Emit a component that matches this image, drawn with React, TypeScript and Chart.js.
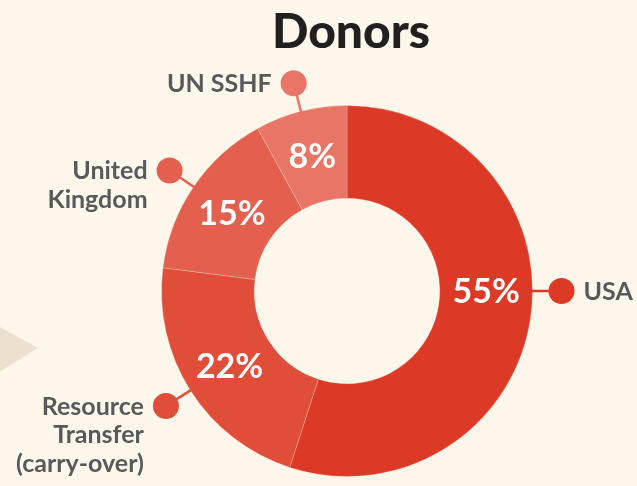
import React, { useEffect, useRef } from "react";
import Chart from "chart.js/auto";

const categories = ["USA", "Resource Transfer (carry-over)", "United Kingdom", "UN SSHF"];
const labelLines = [["USA"], ["Resource", "Transfer", "(carry-over)"], ["United", "Kingdom"], ["UN SSHF"]];
const shares = [55, 22, 15, 8];
const pctLabels = ["55%", "22%", "15%", "8%"];
const colors = ["#dc3a26", "#e04e3a", "#e3604f", "#e87565"];
const angleOffsetDeg = [-9, 0, 0, 0];
const title = "Donors";

const BG = "#fdf6ea";

const decorPlugin = {
  id: "decor",
  beforeDraw(chart: any) {
    const ctx = chart.ctx;
    ctx.save();
    ctx.fillStyle = BG;
    ctx.fillRect(0, 0, chart.width, chart.height);
    ctx.fillStyle = "#eee0cf";
    ctx.beginPath();
    ctx.moveTo(-20, 316);
    ctx.lineTo(38, 348);
    ctx.lineTo(-20, 384);
    ctx.closePath();
    ctx.fill();
    ctx.restore();
  },
  afterDatasetsDraw(chart: any) {
    const ctx = chart.ctx;
    const meta = chart.getDatasetMeta(0);
    ctx.save();
    ctx.fillStyle = "#231f20";
    ctx.font = "900 48px Lato";
    ctx.textAlign = "center";
    ctx.textBaseline = "alphabetic";
    ctx.fillText(title, 351, 48);

    meta.data.forEach((arc: any, i: number) => {
      const { x, y, startAngle, endAngle, innerRadius, outerRadius } = arc.getProps(
        ["x", "y", "startAngle", "endAngle", "innerRadius", "outerRadius"],
        true
      );
      const mid = (startAngle + endAngle) / 2 + (angleOffsetDeg[i] * Math.PI) / 180;
      const cos = Math.cos(mid);
      const sin = Math.sin(mid);
      const rm = (innerRadius + outerRadius) / 2;
      ctx.fillStyle = "#ffffff";
      ctx.font = "bold 34px Lato";
      ctx.textAlign = "center";
      ctx.textBaseline = "middle";
      ctx.fillText(pctLabels[i], x + cos * rm, y + sin * rm + 1);
      const rd = outerRadius + 29;
      const dx = x + cos * rd;
      const dy = y + sin * rd;
      ctx.strokeStyle = colors[i];
      ctx.lineWidth = 2.5;
      ctx.beginPath();
      ctx.moveTo(x + cos * (outerRadius - 1), y + sin * (outerRadius - 1));
      ctx.lineTo(dx, dy);
      ctx.stroke();
      ctx.fillStyle = colors[i];
      ctx.beginPath();
      ctx.arc(dx, dy, 13, 0, Math.PI * 2);
      ctx.fill();
      ctx.fillStyle = "#58595b";
      ctx.font = "bold 25px Lato";
      ctx.textBaseline = "middle";
      const right = cos > 0;
      ctx.textAlign = right ? "left" : "right";
      const tx = right ? dx + 22 : dx - 22;
      labelLines[i].forEach((line, j) => {
        ctx.fillText(line, tx, dy + 1 + j * 28.5);
      });
    });
    ctx.restore();
  },
};

export default function App() {
  const ref = useRef<HTMLCanvasElement>(null);
  useEffect(() => {
    if (!ref.current) return;
    const chart = new Chart(ref.current, {
      type: "doughnut",
      data: {
        labels: categories,
        datasets: [
          {
            data: shares,
            backgroundColor: colors,
            borderColor: "rgba(255,235,225,0.25)",
            borderWidth: 1,
          },
        ],
      },
      options: {
        responsive: false,
        animation: false,
        cutout: "50%",
        layout: { padding: { left: 161, right: 104, top: 105, bottom: 9 } },
        plugins: {
          legend: { display: false },
          tooltip: { enabled: false },
          title: { display: false },
        },
      },
      plugins: [decorPlugin],
    });
    return () => chart.destroy();
  }, []);
  return (
    <div style={{ position: "fixed", left: 0, top: 0, width: 637, height: 486, background: BG }}>
      <canvas ref={ref} width={637} height={486} style={{ display: "block" }} />
    </div>
  );
}
